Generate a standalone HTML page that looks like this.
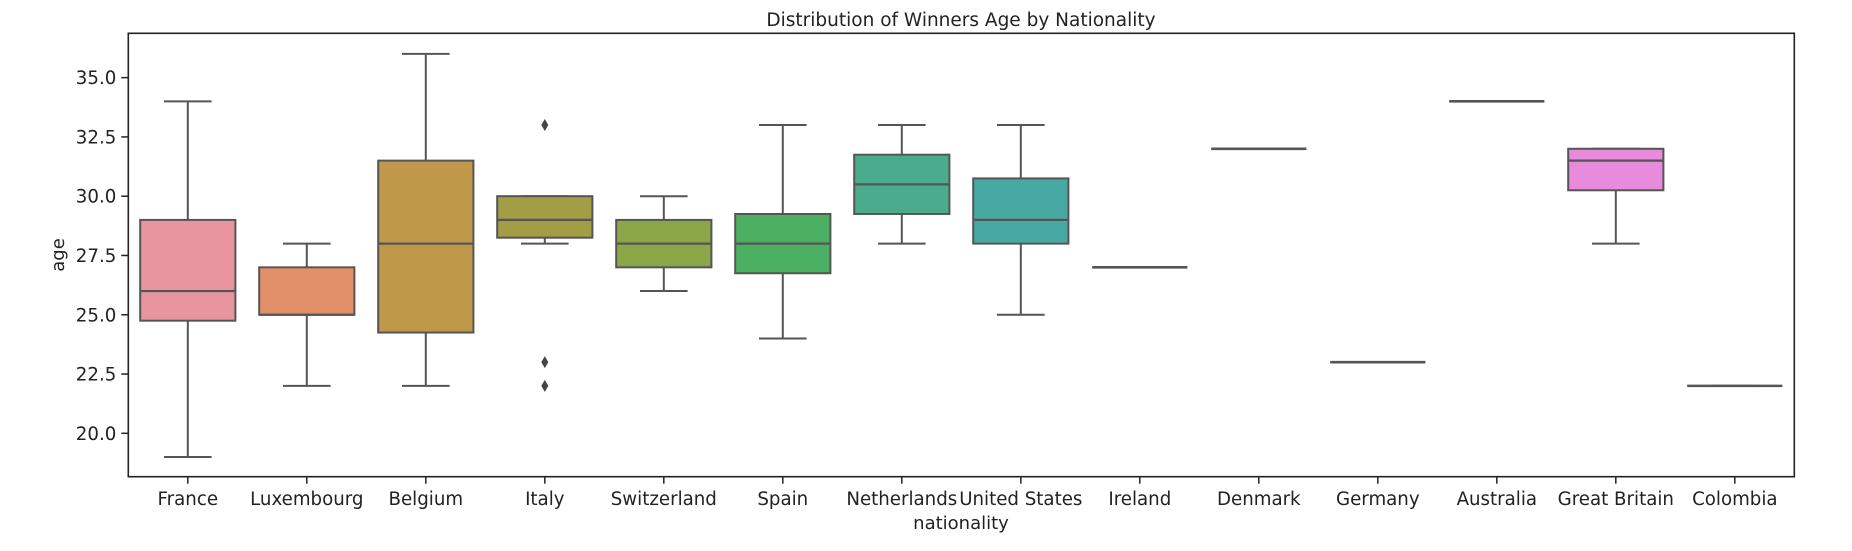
<!DOCTYPE html>
<html><head><meta charset="utf-8"><style>
html,body{margin:0;padding:0;background:#fff;}
svg{display:block;font-family:"DejaVu Sans","Liberation Sans",sans-serif;}
</style></head><body>
<svg id="chart" width="1852" height="551" viewBox="0 0 1852 551" xmlns="http://www.w3.org/2000/svg">
<text x="961" y="26" font-size="18.5" text-anchor="middle" fill="#222">Distribution of Winners Age by Nationality</text>
<g id="plot"></g>
<text x="961" y="529" font-size="18" text-anchor="middle" fill="#222">nationality</text>
<text transform="translate(64,255) rotate(-90)" font-size="18" text-anchor="middle" fill="#222">age</text>
</svg>
<script>
const categories = ["France","Luxembourg","Belgium","Italy","Switzerland","Spain","Netherlands","United States","Ireland","Denmark","Germany","Australia","Great Britain","Colombia"];
const whiskerLow = [19,22,22,28,26,24,28,25,27,32,23,34,28,22];
const q1 = [24.75,25,24.25,28.25,27,26.75,29.25,28,27,32,23,34,30.25,22];
const median = [26,25,28,29,28,28,30.5,29,27,32,23,34,31.5,22];
const q3 = [29,27,31.5,30,29,29.25,31.75,30.75,27,32,23,34,32,22];
const whiskerHigh = [34,28,36,30,30,33,33,33,27,32,23,34,32,22];
const outliers = [[],[],[],[33,23,22],[],[],[],[],[],[],[],[],[],[]];
const colors = ["#e8959f","#e2906a","#c0984a","#a39d45","#8aa646","#4bb062","#4aac8d","#48a9a3","#4aa6c0","#5aa0d9","#9a94e2","#c98de2","#e88bdc","#e890b8"];
const yTicks = [20.0,22.5,25.0,27.5,30.0,32.5,35.0];
const yTickLabels = ["20.0","22.5","25.0","27.5","30.0","32.5","35.0"];

const L=128.3,R=1794.3,T=33.3,B=476.7,yMin=18.17,yMax=36.87;
const NS="http://www.w3.org/2000/svg";
const g=document.getElementById('plot');
const band=(R-L)/categories.length;
function xScale(i){return L+band*(i+0.5);}
function yScale(v){return B-(v-yMin)/(yMax-yMin)*(B-T);}
function mk(tag,attrs,parent){const e=document.createElementNS(NS,tag);for(const k in attrs)e.setAttribute(k,attrs[k]);(parent||g).appendChild(e);return e;}
const LC="#555";
categories.forEach((c,i)=>{
  const grp=mk('g',{});
  
  
  const cx=xScale(i),w=band*0.8,cw=w/2;
  mk('line',{x1:cx,x2:cx,y1:yScale(whiskerLow[i]),y2:yScale(q1[i]),stroke:LC,'stroke-width':2},grp);
  mk('line',{x1:cx,x2:cx,y1:yScale(q3[i]),y2:yScale(whiskerHigh[i]),stroke:LC,'stroke-width':2},grp);
  mk('line',{x1:cx-cw/2,x2:cx+cw/2,y1:yScale(whiskerLow[i]),y2:yScale(whiskerLow[i]),stroke:LC,'stroke-width':2},grp);
  mk('line',{x1:cx-cw/2,x2:cx+cw/2,y1:yScale(whiskerHigh[i]),y2:yScale(whiskerHigh[i]),stroke:LC,'stroke-width':2},grp);
  const h=yScale(q1[i])-yScale(q3[i]);
  if(h>0.5) mk('rect',{x:cx-w/2,y:yScale(q3[i]),width:w,height:h,fill:colors[i],stroke:LC,'stroke-width':2},grp);
  mk('line',{x1:cx-w/2,x2:cx+w/2,y1:yScale(median[i]),y2:yScale(median[i]),stroke:LC,'stroke-width':h>0.5?2.2:2.6},grp);
  outliers[i].forEach(v=>{
    const y=yScale(v);
    const p=mk('path',{d:`M${cx},${y-6} L${cx+3.5},${y} L${cx},${y+6} L${cx-3.5},${y} Z`,fill:'#444'},grp);
    
    
  });
  mk('line',{x1:cx,x2:cx,y1:B,y2:B+7,stroke:'#222','stroke-width':1.5});
  const t=mk('text',{x:cx,y:505,'font-size':18.2,'text-anchor':'middle',fill:'#222'});
  
  
  t.textContent=c;
});
yTicks.forEach((v,i)=>{
  const y=yScale(v);
  mk('line',{x1:L-7,x2:L,y1:y,y2:y,stroke:'#222','stroke-width':1.5});
  const t=mk('text',{x:L-12,y:y+6.5,'font-size':18.2,'text-anchor':'end',fill:'#222'});
  
  
  t.textContent=yTickLabels[i];
});
const fr=mk('rect',{x:L,y:T,width:R-L,height:B-T,fill:'none',stroke:'#222','stroke-width':1.6});


</script>
</body></html>
